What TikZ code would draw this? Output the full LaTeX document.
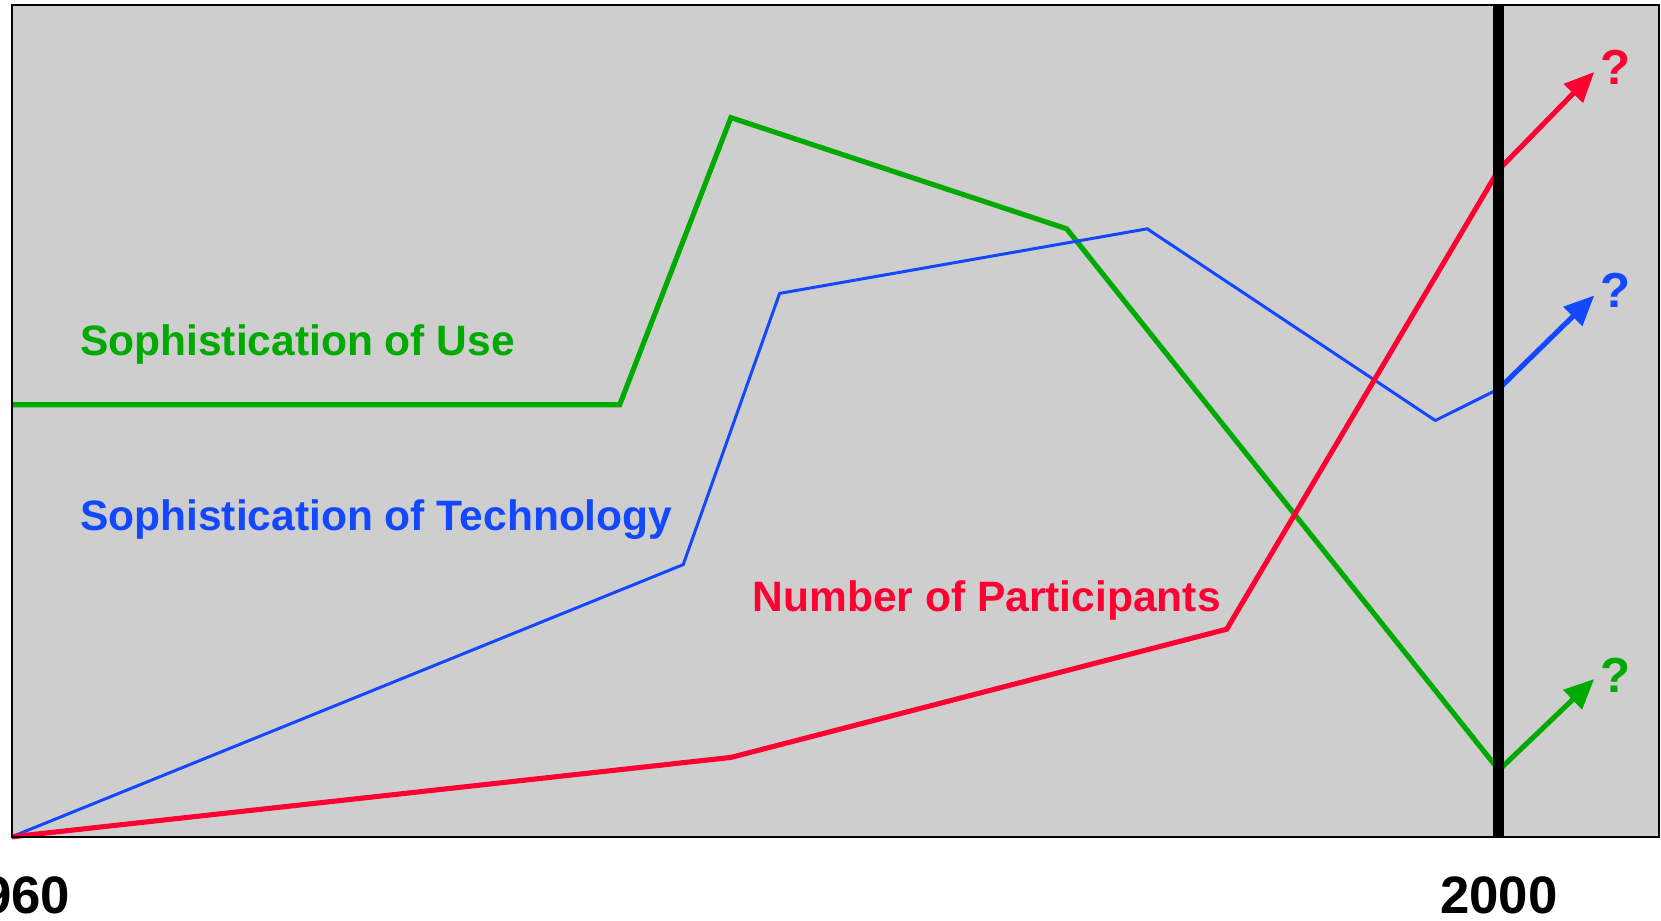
\documentclass[tikz,border=0pt]{standalone}
\usepackage{fontspec}
\setmainfont{Liberation Sans}
\usepackage{tkz-euclide}
\usetikzlibrary{arrows.meta}
\definecolor{usegreen}{RGB}{0,170,0}
\definecolor{techblue}{RGB}{20,72,255}
\definecolor{partred}{RGB}{255,0,51}
\definecolor{panelgray}{RGB}{206,206,206}
\tikzset{
  trend/.style={line width=1.45pt,-{Triangle[length=0.3cm,width=0.26cm]}},
  curvelabel/.style={font=\fontsize{12.1}{14}\selectfont\bfseries,anchor=west,inner sep=0pt},
  query/.style={font=\fontsize{14}{16}\selectfont\bfseries,inner sep=0pt},
  yearlabel/.style={font=\fontsize{15}{18}\selectfont\bfseries,inner sep=0pt}
}
\begin{document}
\begin{tikzpicture}
		\useasboundingbox (0,0) rectangle (16.61,9.2);
		\tkzDefPoints{0.1165/0.832/SW,16.589/9.147/NE,14.989/0.832/Ybot,14.989/9.147/Ytop}
		\tkzDefPoints{0.1165/5.153/G1,6.197/5.153/G2,7.309/8.024/G3,10.667/6.912/G4,14.989/1.499/G5,15.942/2.41/G6}
		\tkzDefPoints{0.1165/0.832/B1,6.832/3.554/B2,7.796/6.266/B3,11.472/6.912/B4,14.353/4.995/B5,14.989/5.312/B6,15.942/6.245/B7}
		\tkzDefPoints{0.1165/0.832/R1,7.309/1.626/R2,12.267/2.908/R3,14.989/7.505/R4,15.942/8.48/R5}
		\fill[panelgray] (SW) rectangle (NE);
		% curves
		\draw[usegreen,line width=1.45pt] (G1) -- (G2) -- (G3) -- (G4) -- (G5);
		\draw[techblue,line width=0.85pt] (B1) -- (B2) -- (B3) -- (B4) -- (B5) -- (B6);
		\draw[partred,line width=1.45pt] (R1) -- (R2) -- (R3) -- (R4);
		\draw[usegreen,trend] (G5) -- (G6);
		\draw[techblue,trend] (B6) -- (B7);
		\draw[partred,trend] (R4) -- (R5);
		\draw[line width=3.1pt] (Ybot) -- (Ytop);
		\draw[line width=0.6pt] (SW) rectangle (NE);
		\node[curvelabel,text=usegreen] (use) at (0.794,5.76) {Sophistication of Use};
		\node[curvelabel,text=techblue] (tech) at (0.794,4.00) {Sophistication of Technology};
		\node[curvelabel,text=partred] (part) at (7.521,3.20) {Number of Participants};
		\node[query,text=partred] (qred) at (16.154,8.53) {?};
		\node[query,text=techblue] (qblue) at (16.154,6.295) {?};
		\node[query,text=usegreen] (qgreen) at (16.154,2.45) {?};
		\node[yearlabel] (start) at (0.1165,0.25) {1960};
		\node[yearlabel] (end) at (14.989,0.25) {2000};
		\end{tikzpicture}
\end{document}
